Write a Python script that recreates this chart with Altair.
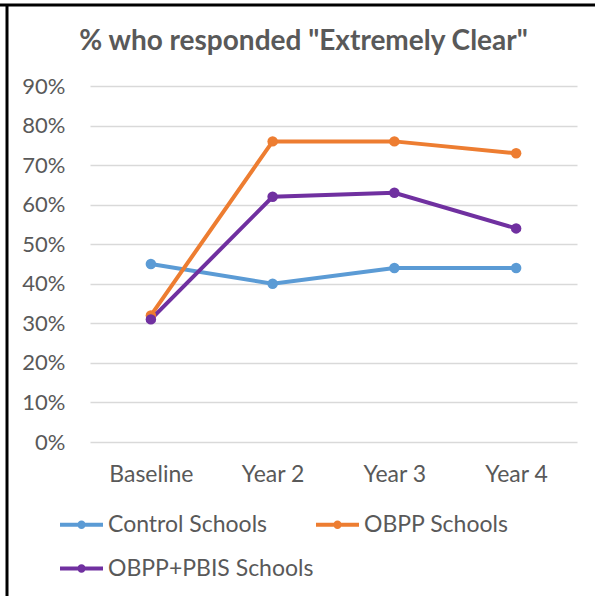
import altair as alt
import pandas as pd

# Survey waves and share answering "Extremely Clear" per school group
waves = ["Baseline", "Year 2", "Year 3", "Year 4"]
control = [0.45, 0.40, 0.44, 0.44]
obpp = [0.32, 0.76, 0.76, 0.73]
obpp_pbis = [0.31, 0.62, 0.63, 0.54]

groups = ["Control Schools", "OBPP Schools", "OBPP+PBIS Schools"]
colors = ["#5B9BD5", "#ED7D31", "#7030A0"]
y_ticks = [0, 0.1, 0.2, 0.3, 0.4, 0.5, 0.6, 0.7, 0.8, 0.9]

rows = []
for name, vals in zip(groups, [control, obpp, obpp_pbis]):
    for w, v in zip(waves, vals):
        rows.append({"wave": w, "group": name, "value": v})
df = pd.DataFrame(rows)

FONT = "Lato"
GREY = "#595959"

# legend glyph: a short line with a dot in the middle
glyph = ("M-1,0H1M-0.1,0a0.1,0.1 0 1,0 0.2,0"
         "a0.1,0.1 0 1,0 -0.2,0Z")

lines = alt.Chart(df).mark_line(
    strokeWidth=4,
    point=alt.OverlayMarkDef(size=110, filled=True, opacity=1),
).encode(
    x=alt.X("wave:N", sort=waves, title=None,
            scale=alt.Scale(paddingInner=0, paddingOuter=0.5),
            axis=alt.Axis(labelAngle=0, labelFontSize=23, labelColor=GREY,
                          labelFont=FONT, labelPadding=21, ticks=False,
                          domain=False, grid=False)),
    y=alt.Y("value:Q", title=None,
            scale=alt.Scale(domain=[0, 0.9], nice=False),
            axis=alt.Axis(values=y_ticks, format=".0%", labelFontSize=22,
                          labelColor=GREY, labelFont=FONT, labelPadding=25,
                          ticks=False, domain=False, gridColor="#D9D9D9",
                          gridWidth=1.5)),
    color=alt.Color("group:N",
                    scale=alt.Scale(domain=groups, range=colors),
                    legend=alt.Legend(
                        title=None, orient="none", legendX=-32, legendY=415,
                        columns=2, columnPadding=-14, rowPadding=8,
                        symbolType=glyph, symbolSize=1849,
                        symbolStrokeWidth=4, labelOffset=3, labelLimit=400,
                        labelFontSize=23, labelColor=GREY, labelFont=FONT,
                        direction="horizontal")),
)

# outer frame: heavy rule along the top and left edges
frame_top = alt.Chart().mark_rule(color="black", strokeWidth=3).encode(
    x=alt.value(-90), x2=alt.value(505), y=alt.value(-81))
frame_left = alt.Chart().mark_rule(color="black", strokeWidth=3).encode(
    x=alt.value(-83), y=alt.value(-82), y2=alt.value(510))

chart = alt.layer(frame_top, frame_left, lines).properties(
    width=487,
    height=356,
    title=alt.Title('% who responded "Extremely Clear"', fontSize=28,
                    font=FONT, fontWeight="bold", color=GREY,
                    anchor="middle", dx=-30, offset=-53),
    autosize=alt.AutoSizeParams(type="none"),
    padding={"left": 90, "top": 86, "right": 18, "bottom": 154},
).configure(background="white", view=alt.ViewConfig(stroke=None))

chart.save("out.html", embed_options={"renderer": "svg", "actions": False})
